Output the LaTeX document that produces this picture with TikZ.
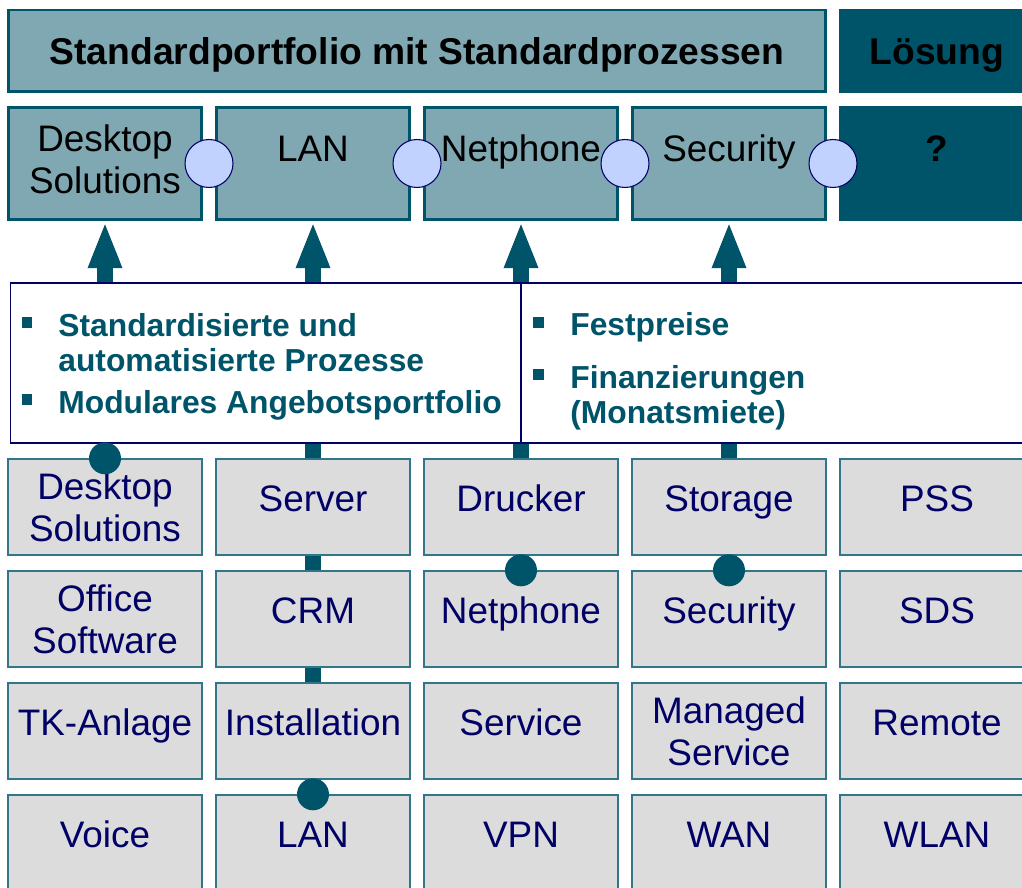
\documentclass[tikz,border=0pt]{standalone}
\usepackage{fontspec}
\setmainfont{Liberation Sans}
\usepackage{tikz}
\usetikzlibrary{arrows.meta,calc,backgrounds,positioning}

\definecolor{petrol}{HTML}{00546A}
\definecolor{petrolhell}{HTML}{7FA8B2}
\definecolor{kastengrau}{HTML}{DCDCDC}
\definecolor{marine}{HTML}{000066}
\definecolor{flieder}{HTML}{C2D2FF}

\tikzstyle{kopf} = [rectangle, draw=petrol, line width=1.7pt, fill=petrolhell,
                    text centered, minimum height=1.64cm, text height=15pt, text depth=0pt,
                    font=\fontsize{21.2}{24}\selectfont\bfseries]
\tikzstyle{modul} = [rectangle, draw=petrol, line width=1.7pt, fill=petrolhell,
                     align=center, minimum width=3.88cm, minimum height=2.26cm,
                     font=\fontsize{21}{24}\selectfont]
\tikzstyle{baustein} = [rectangle, draw=petrol!80, line width=0.8pt, fill=kastengrau,
                        align=center, text=marine, minimum width=3.88cm,
                        minimum height=1.92cm, font=\fontsize{21}{24}\selectfont]

\begin{document}
\begin{tikzpicture}[x=0.02cm, y=-0.02cm,
dunkel/.style={fill=petrol, draw=petrol},
hoch/.style={text height=15pt, text depth=17pt},
mitte/.style={text height=15pt, text depth=10pt},
gelenk/.style={circle, draw=marine, line width=0.6pt, fill=flieder, minimum size=0.96cm, inner sep=0pt},
knoten/.style={circle, fill=petrol, minimum size=0.64cm, inner sep=0pt},
pfeil/.style={petrol, line width=9pt, -{Triangle[length=26.6pt,width=17.6pt]}},
leitung/.style={petrol, line width=9pt},
punkt/.style={anchor=base west, align=left, inner sep=0pt, text=petrol,
              font=\fontsize{18.1}{20.4}\selectfont\bfseries},
quadrat/.style={rectangle, fill=petrol, minimum size=0.22cm, inner sep=0pt}]
\clip (0,0) rectangle (1022,888);

% Kopfzeile
\node[kopf, minimum width=16.36cm] at (417,51) (titel){Standardportfolio mit Standardprozessen};
\node[kopf, dunkel, minimum width=3.88cm] at (937,51) (loesung){Lösung};

% Module
\node[modul, text depth=4.6pt] at (105,163.5) (dsk){Desktop\\Solutions};
\node[modul, hoch] at (313,163.5) (lan){LAN};
\node[modul, hoch] at (521,163.5) (net){Netphone};
\node[modul, hoch] at (729,163.5) (sec){Security};
\node[modul, hoch, dunkel, font=\fontsize{21}{24}\selectfont\bfseries] at (937,163.5) (frage){?};

% Eigenschaften
\node[rectangle, draw=marine, line width=0.6pt, fill=white, minimum width=20.4cm,
      minimum height=3.2cm, inner sep=0pt] at (520,363) (info){};
\draw[marine, line width=0.6pt] (info.north -| net.south) -- (info.south -| net.south);
\node[quadrat] at (27,323) (q1){};
\node[punkt] at (58,372) (p1){Standardisierte und\\automatisierte Prozesse};
\node[quadrat] at (27,400) (q2){};
\node[punkt] at (58,414) (p2){Modulares Angebotsportfolio};
\node[quadrat] at (538,323) (q3){};
\node[punkt] at (570,336) (p3){Festpreise};
\node[quadrat] at (538,375) (q4){};
\node[punkt] at (570,424) (p4){Finanzierungen\\(Monatsmiete)};

% Bausteine
\node[baustein] at (105,507) (bDesk){Desktop\\Solutions};
\node[baustein, mitte] at (313,507) (bServer){Server};
\node[baustein, mitte] at (521,507) (bDrucker){Drucker};
\node[baustein, mitte] at (729,507) (bStorage){Storage};
\node[baustein, mitte] at (937,507) (bPSS){PSS};

\node[baustein] at (105,619) (bOffice){Office\\Software};
\node[baustein, mitte] at (313,619) (bCRM){CRM};
\node[baustein, mitte] at (521,619) (bNet){Netphone};
\node[baustein, mitte] at (729,619) (bSec){Security};
\node[baustein, mitte] at (937,619) (bSDS){SDS};

\node[baustein, mitte] at (105,731) (bTK){TK-Anlage};
\node[baustein, mitte] at (313,731) (bInst){Installation};
\node[baustein, mitte] at (521,731) (bService){Service};
\node[baustein] at (729,731) (bManaged){Managed\\Service};
\node[baustein, mitte] at (937,731) (bRemote){Remote};

\node[baustein, mitte] at (105,843) (bVoice){Voice};
\node[baustein, mitte] at (313,843) (bLAN){LAN};
\node[baustein, mitte] at (521,843) (bVPN){VPN};
\node[baustein, mitte] at (729,843) (bWAN){WAN};
\node[baustein, mitte] at (937,843) (bWLAN){WLAN};

% Verbindungen
\begin{pgfonlayer}{background}
\draw[leitung] (info.south -| bServer.north) -- (bLAN.north);
\draw[leitung] (info.south -| bDrucker.north) -- (bNet.north);
\draw[leitung] (info.south -| bStorage.north) -- (bSec.north);
\end{pgfonlayer}
\node[knoten] at (bDesk.north) (d1){};
\node[knoten] at (bLAN.north) (d2){};
\node[knoten] at (bNet.north) (d3){};
\node[knoten] at (bSec.north) (d4){};

\draw[pfeil] (info.north -| dsk.south) -- (dsk.south);
\draw[pfeil] (info.north -| lan.south) -- (lan.south);
\draw[pfeil] (info.north -| net.south) -- (net.south);
\draw[pfeil] (info.north -| sec.south) -- (sec.south);

% Gelenke
\node[gelenk] at ($(dsk.east)!0.5!(lan.west)$) (k1){};
\node[gelenk] at ($(lan.east)!0.5!(net.west)$) (k2){};
\node[gelenk] at ($(net.east)!0.5!(sec.west)$) (k3){};
\node[gelenk] at ($(sec.east)!0.5!(frage.west)$) (k4){};
\end{tikzpicture}
\end{document}
